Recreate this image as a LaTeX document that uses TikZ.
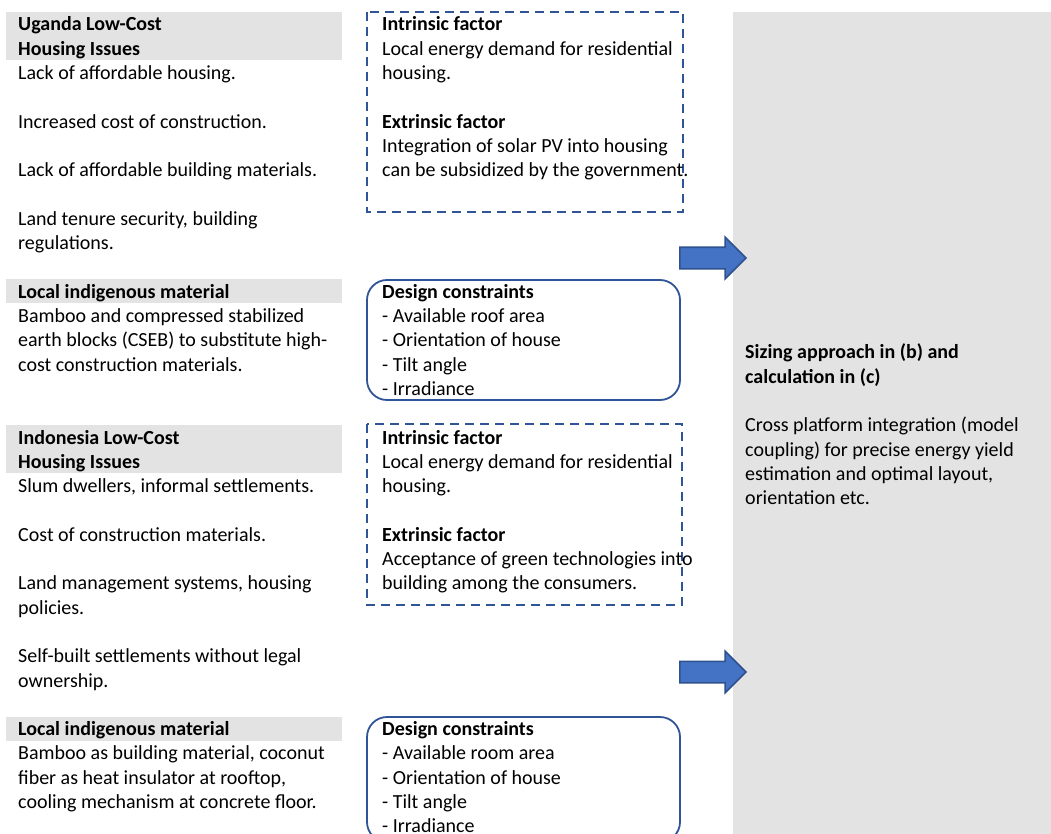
\documentclass[tikz,border=0pt]{standalone}
\usepackage{fontspec}
\setmainfont{Carlito}
\usetikzlibrary{matrix}
\usetikzlibrary{positioning}
\usetikzlibrary{shapes.arrows}
\definecolor{boxblue}{HTML}{2F5597}
\definecolor{arrowblue}{HTML}{4472C4}
\definecolor{arrowedge}{HTML}{2F528F}
\definecolor{bargrey}{HTML}{E3E3E3}
\tikzset{textblock/.style={matrix of nodes,
                        anchor=north west,
                        inner sep=0pt,
                        row sep=0pt,
                        nodes in empty cells,
                        nodes={anchor=base west, inner sep=0pt, outer sep=0pt,
                               text height=15.4pt, text depth=8.9pt,
                               font=\fontsize{20pt}{24.3pt}\selectfont}
                        },
        headbar/.style={fill=bargrey},
        factorbox/.style={draw=boxblue,
                        line width=1.8pt,
                        dash pattern=on 9pt off 6pt
        },
        constraintbox/.style={draw=boxblue,
                        line width=1.8pt,
                        rounded corners=20pt
        },
        sizingbox/.style={fill=bargrey,
                        anchor=north west,
                        inner sep=0pt
        },
        blockarrow/.style={single arrow,
                        draw=arrowedge,
                        fill=arrowblue,
                        line width=1.5pt,
                        inner xsep=0pt,
                        inner ysep=10pt,
                        minimum height=66pt,
                        minimum width=40pt,
                        single arrow head extend=10pt,
                        single arrow tip angle=90,
                        anchor=tip
        },
}
\begin{document}
\begin{tikzpicture}
    [x=1pt,y=-1pt]
    \useasboundingbox (0,0) rectangle (1051,834);
    \clip (0,0) rectangle (1051,834);

    % GREY HEADINGS
    \fill[headbar] (6,12) rectangle (342,60);
    \fill[headbar] (6,279) rectangle (342,303);
    \fill[headbar] (6,425) rectangle (342,473);
    \fill[headbar] (6,717) rectangle (342,741);

    % SIZING BOX
    \node[sizingbox, minimum width=318pt, minimum height=830pt] (sizing) at (733,12) {};

    \matrix[textblock] (sizingText) at (745,343.3) {
        \textbf{Sizing approach in (b) and} \\
        \textbf{calculation in (c)} \\
        \\
        Cross platform integration (model \\
        coupling) for precise energy yield \\
        estimation and optimal layout, \\
        orientation etc. \\
    };

    % UGANDA
    \matrix[textblock] (ugIssues) at (18,15.3) {
        \textbf{Uganda Low-Cost} \\
        \textbf{Housing Issues} \\
        Lack of affordable housing. \\
        \\
        Increased cost of construction. \\
        \\
        Lack of affordable building materials. \\
        \\
        Land tenure security, building \\
        regulations. \\
    };

    \matrix[textblock] (ugMaterial) at (18,282.6) {
        \textbf{Local indigenous material} \\
        Bamboo and compressed stabilized \\
        earth blocks (CSEB) to substitute high- \\
        cost construction materials. \\
    };

    \draw[factorbox] (367,12) rectangle (683,212);
    \matrix[textblock] (ugFactors) at (382,15.3) {
        \textbf{Intrinsic factor} \\
        Local energy demand for residential \\
        housing. \\
        \\
        \textbf{Extrinsic factor} \\
        Integration of solar PV into housing \\
        can be subsidized by the government. \\
    };

    \draw[constraintbox] (367,280) rectangle (680,400);
    \matrix[textblock] (ugConstraints) at (382,282.6) {
        \textbf{Design constraints} \\
        - Available roof area \\
        - Orientation of house \\
        - Tilt angle \\
        - Irradiance \\
    };

    % INDONESIA
    \matrix[textblock] (idIssues) at (18,428.4) {
        \textbf{Indonesia Low-Cost} \\
        \textbf{Housing Issues} \\
        Slum dwellers, informal settlements. \\
        \\
        Cost of construction materials. \\
        \\
        Land management systems, housing \\
        policies. \\
        \\
        Self-built settlements without legal \\
        ownership. \\
    };

    \matrix[textblock] (idMaterial) at (18,720) {
        \textbf{Local indigenous material} \\
        Bamboo as building material, coconut \\
        fiber as heat insulator at rooftop, \\
        cooling mechanism at concrete floor. \\
    };

    \draw[factorbox] (367,424) rectangle (682,605);
    \matrix[textblock] (idFactors) at (382,428.4) {
        \textbf{Intrinsic factor} \\
        Local energy demand for residential \\
        housing. \\
        \\
        \textbf{Extrinsic factor} \\
        Acceptance of green technologies into \\
        building among the consumers. \\
    };

    \draw[constraintbox] (367,717) rectangle (680,842);
    \matrix[textblock] (idConstraints) at (382,720) {
        \textbf{Design constraints} \\
        - Available room area \\
        - Orientation of house \\
        - Tilt angle \\
        - Irradiance \\
    };

    % ARROWS
    \node[blockarrow] (ugArrow) at (747,258) {};
    \node[blockarrow] (idArrow) at (747,672) {};

\end{tikzpicture}
\end{document}
